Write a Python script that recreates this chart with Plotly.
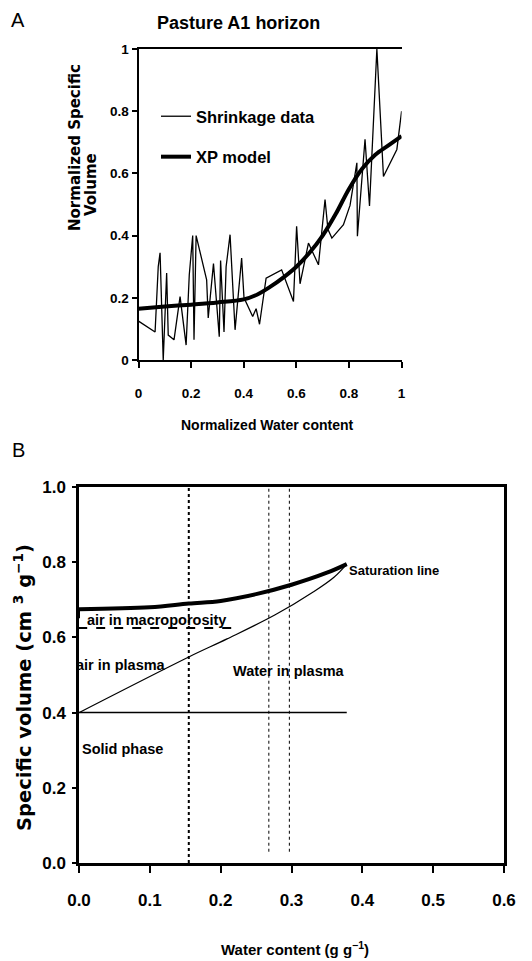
import plotly.graph_objects as go

# ---------------- Panel A data ----------------
shrink_x = [0.0, 0.063, 0.075, 0.082, 0.094, 0.107, 0.113, 0.135, 0.158, 0.181, 0.193,
            0.206, 0.211, 0.219, 0.259, 0.265, 0.285, 0.307, 0.312, 0.325, 0.333, 0.348,
            0.367, 0.392, 0.401, 0.434, 0.447, 0.46, 0.485, 0.544, 0.589, 0.601, 0.614,
            0.646, 0.684, 0.709, 0.72, 0.735, 0.779, 0.804, 0.83, 0.832, 0.861, 0.878,
            0.906, 0.931, 0.982, 1.0]
shrink_y = [0.125, 0.09, 0.30, 0.345, 0.0, 0.28, 0.08, 0.065, 0.204, 0.048, 0.274,
            0.40, 0.065, 0.40, 0.258, 0.135, 0.31, 0.075, 0.32, 0.09, 0.30, 0.403,
            0.097, 0.328, 0.20, 0.14, 0.165, 0.115, 0.263, 0.29, 0.188, 0.43, 0.245,
            0.376, 0.306, 0.516, 0.42, 0.392, 0.435, 0.497, 0.634, 0.398, 0.71, 0.495,
            1.0, 0.59, 0.677, 0.80]

model_x = [0.0, 0.1, 0.2, 0.3, 0.4, 0.45, 0.5, 0.55, 0.6, 0.65, 0.7, 0.75, 0.8, 0.85, 0.9, 0.95, 1.0]
model_y = [0.165, 0.172, 0.178, 0.185, 0.195, 0.21, 0.235, 0.265, 0.30, 0.345, 0.40, 0.47,
           0.55, 0.615, 0.66, 0.69, 0.72]

tickvals_a = [0, 0.2, 0.4, 0.6, 0.8, 1]
ticktext_a = ["0", "0.2", "0.4", "0.6", "0.8", "1"]

# ---------------- Panel B data ----------------
sat_x = [0.0, 0.1, 0.155, 0.2, 0.25, 0.3, 0.35, 0.378]
sat_y = [0.675, 0.68, 0.69, 0.697, 0.715, 0.74, 0.772, 0.795]

water_x = [0.0, 0.155, 0.209, 0.277, 0.33, 0.36, 0.378]
water_y = [0.40, 0.548, 0.596, 0.66, 0.72, 0.76, 0.795]

macro_x = [0.0, 0.0, 0.22]
macro_y = [0.675, 0.625, 0.625]

solid_x = [0.0, 0.378]
solid_y = [0.40, 0.40]

limit_names = ["SL", "AE", "ML"]
limit_x = [0.155, 0.268, 0.297]
limit_ybottom = [0.0, 0.03, 0.03]
limit_label_x = [0.141, 0.27, 0.318]

region_labels = ["Saturation line", "air in macroporosity", "air in plasma",
                 "Water in plasma", "Solid phase"]
region_x = [0.378, 0.008, 0.0, 0.215, 0.001]
region_xshift = [0, 0, -5, 0, 0]
region_y = [0.779, 0.646, 0.527, 0.511, 0.303]
region_size = [13, 14.5, 14.5, 14.5, 14.5]

W, H = 532, 961
FONT = "Liberation Sans, Arial, sans-serif"
WIDE = "DejaVu Sans, Verdana, sans-serif"


def px(x):
    return x / W


def py(y):
    return 1 - y / H


fig = go.Figure()

# Panel A traces
fig.add_trace(go.Scatter(x=shrink_x, y=shrink_y, mode="lines", name="Shrinkage data",
                         line=dict(color="black", width=1.3), legendgroup="a",
                         xaxis="x", yaxis="y"))
fig.add_trace(go.Scatter(x=model_x, y=model_y, mode="lines", name="XP model",
                         line=dict(color="black", width=4, shape="spline"), legendgroup="b",
                         xaxis="x", yaxis="y"))

# Panel B traces
fig.add_trace(go.Scatter(x=solid_x, y=solid_y, mode="lines", showlegend=False,
                         line=dict(color="black", width=1.5), xaxis="x2", yaxis="y2"))
fig.add_trace(go.Scatter(x=water_x, y=water_y, mode="lines", showlegend=False,
                         line=dict(color="black", width=1.2, shape="spline"),
                         xaxis="x2", yaxis="y2"))
fig.add_trace(go.Scatter(x=macro_x, y=macro_y, mode="lines", showlegend=False,
                         line=dict(color="black", width=2, dash="dash"), xaxis="x2", yaxis="y2"))
fig.add_trace(go.Scatter(x=sat_x, y=sat_y, mode="lines", showlegend=False,
                         line=dict(color="black", width=4, shape="spline"), xaxis="x2", yaxis="y2"))
for name, lx, yb in zip(limit_names, limit_x, limit_ybottom):
    fig.add_trace(go.Scatter(x=[lx, lx], y=[yb, 1.0], mode="lines", showlegend=False,
                             line=dict(color="black", width=2 if name == "SL" else 1, dash="dot"),
                             xaxis="x2", yaxis="y2"))

ann = []
for name, lx in zip(limit_names, limit_label_x):
    ann.append(dict(x=lx, y=1.06, xref="x2", yref="y2", text=name, showarrow=False,
                    xanchor="center", yanchor="middle",
                    font=dict(family=FONT, size=16, color="black", weight="bold")))
for t, x, xs, y, s in zip(region_labels, region_x, region_xshift, region_y, region_size):
    ann.append(dict(x=x, y=y, xref="x2", yref="y2", text=t, showarrow=False, xanchor="left",
                    yanchor="middle", xshift=xs,
                    font=dict(family=FONT, size=s, color="black", weight="bold")))


def pa(x, y, text, font, angle=0):
    return dict(x=px(x), y=py(y), xref="paper", yref="paper", text=text, showarrow=False,
                xanchor="center", yanchor="middle", textangle=angle, font=font)


# titles / panel letters
ann += [
    pa(238, 23, "Pasture A1 horizon", dict(family=FONT, size=18, color="black", weight="bold")),
    pa(18, 20, "A", dict(family=FONT, size=20, color="black")),
    pa(18, 450, "B", dict(family=FONT, size=20, color="black")),
    pa(267, 425, "Normalized Water content",
       dict(family=FONT, size=14, color="black", weight="bold")),
    pa(75, 148, "Normalized Specific",
       dict(family=WIDE, size=15, color="black", weight="bold"), -90),
    pa(91, 185, "Volume", dict(family=WIDE, size=15, color="black", weight="bold"), -90),
    pa(295, 948, "Water content (g g<sup>\u22121</sup>)",
       dict(family=FONT, size=15, color="black", weight="bold")),
    pa(23, 688, "Specific volume (cm <sup>3</sup> g<sup>\u22121</sup>)",
       dict(family=WIDE, size=19.5, color="black", weight="bold"), -90),
]

axis_common = dict(showgrid=False, zeroline=False, showline=True, linecolor="black",
                   ticks="outside", tickcolor="black", tickwidth=2, automargin=False)

fig.update_layout(
    width=W, height=H,
    margin=dict(l=0, r=0, t=0, b=0, autoexpand=False),
    paper_bgcolor="white", plot_bgcolor="white",
    showlegend=True,
    legend=dict(x=px(156), y=py(99), xanchor="left", yanchor="top",
                font=dict(family=FONT, size=16.5, color="black", weight="bold"),
                bgcolor="rgba(0,0,0,0)", traceorder="grouped", tracegroupgap=16,
                itemwidth=30),
    xaxis=dict(domain=[px(138.5), px(401.6)], range=[0, 1], tickvals=tickvals_a,
               ticktext=ticktext_a, anchor="y", linewidth=2, mirror=True, ticklen=6,
               ticklabelstandoff=14,
               tickfont=dict(family=FONT, size=13.5, color="black", weight="bold"),
               **axis_common),
    yaxis=dict(domain=[py(360), py(49)], range=[0, 1], tickvals=tickvals_a,
               ticktext=ticktext_a, anchor="x", linewidth=2, ticklen=5,
               tickfont=dict(family=FONT, size=13.5, color="black", weight="bold"),
               **axis_common),
    xaxis2=dict(domain=[px(79), px(504)], range=[0, 0.6], dtick=0.1, tick0=0,
                tickformat=".1f", anchor="y2", linewidth=2.5, mirror=True, ticklen=7,
                ticklabelstandoff=13,
                tickfont=dict(family=FONT, size=17, color="black", weight="bold"),
                **axis_common),
    yaxis2=dict(domain=[py(863), py(487)], range=[0, 1.0], dtick=0.2, tick0=0,
                tickformat=".1f", anchor="x2", linewidth=2.5, mirror=True, ticklen=4,
                ticklabelstandoff=3,
                tickfont=dict(family=FONT, size=17, color="black", weight="bold"),
                **axis_common),
    annotations=ann,
)

fig.write_html("out.html", config={"displayModeBar": False},
               post_script="document.body.style.margin='0';document.body.style.padding='0';")
